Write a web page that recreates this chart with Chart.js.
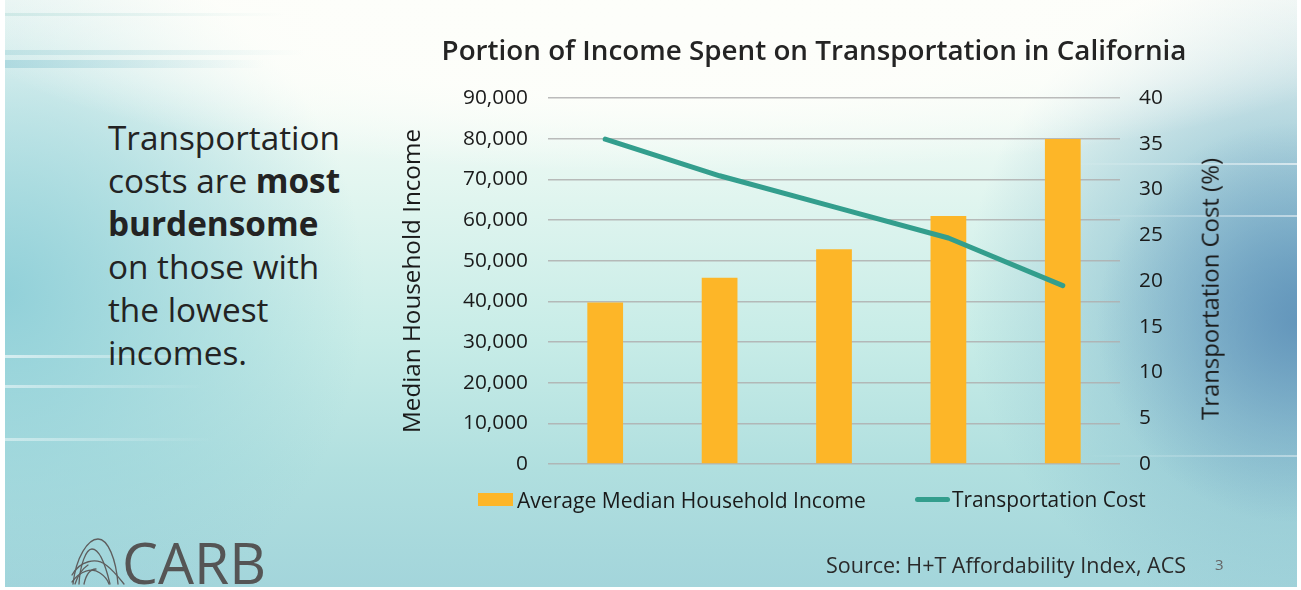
<!DOCTYPE html>
<html>
<head>
<meta charset="utf-8">
<script src="https://cdn.jsdelivr.net/npm/chart.js@4.4.1/dist/chart.umd.min.js"></script>
<style>
  html, body { margin:0; padding:0; background:#ffffff; }
  #page { position:relative; width:1301px; height:590px; overflow:hidden; background:#fff; font-family: "Open Sans", "Noto Sans", sans-serif; }
  #slide { position:absolute; left:5px; top:0; width:1292px; height:587px; overflow:hidden;
    background:
      radial-gradient(ellipse 200px 200px at 100% 55%, rgba(90,140,182,0.75) 0%, rgba(100,150,188,0.35) 55%, rgba(120,170,200,0) 100%),
      radial-gradient(ellipse 720px 150px at 52% 4%, rgba(253,254,250,1) 0%, rgba(253,254,250,0.95) 50%, rgba(253,254,250,0) 100%),
      radial-gradient(ellipse 360px 360px at 0% 50%, rgba(135,203,214,0.85) 0%, rgba(150,210,218,0.55) 50%, rgba(170,220,222,0) 100%),
      radial-gradient(ellipse 330px 330px at 100% 50%, rgba(115,170,198,0.9) 0%, rgba(130,185,205,0.55) 50%, rgba(150,200,212,0) 100%),
      linear-gradient(to bottom, #fcfdf9 0%, #f6fcf7 14%, #e0f5ef 34%, #c7ece7 58%, #b0dfdf 80%, #a3d5db 100%);
  }
  .streak { position:absolute; height:3px; }
  #chartWrap { position:absolute; left:0; top:0; width:1301px; height:590px; }
  #lefttext { position:absolute; left:108px; top:116px; line-height:43px; color:#232323; white-space:nowrap; }
  #lefttext b { font-weight:700; }
  #legend { position:absolute; left:478px; top:486px; height:26px; display:flex; align-items:center; color:#1a1a1a; white-space:nowrap; }
  #legend .item { display:flex; align-items:center; }
  #rtitle { position:absolute; left:1210px; top:289px; transform:translate(-50%,-50%) rotate(-90deg); color:#1a1a1a; white-space:nowrap; line-height:1.2; }
  #source { position:absolute; left:826px; top:552px; line-height:26px; color:#2a2a2a; white-space:nowrap; }
  #pnum { position:absolute; left:1215px; top:554px; font-size:15px; line-height:20px; color:#666; }
  #logo { position:absolute; left:70px; top:535px; }
  #carb { position:absolute; left:122px; top:535px; line-height:54px; color:#555; white-space:nowrap; }
</style>
</head>
<body>
<div id="page">
  <div id="slide">
    <div class="streak" style="left:0;top:13px;width:280px;background:linear-gradient(to right, rgba(190,225,222,0.6), rgba(190,225,222,0));"></div>
    <div class="streak" style="left:0;top:50px;width:300px;height:5px;background:linear-gradient(to right, rgba(170,215,220,0.55), rgba(170,215,220,0));"></div>
    <div class="streak" style="left:0;top:60px;width:260px;height:8px;background:linear-gradient(to right, rgba(150,205,215,0.6), rgba(150,205,215,0));"></div>
    <div class="streak" style="left:0;top:355px;width:230px;background:linear-gradient(to right, rgba(255,255,255,0.6), rgba(255,255,255,0));"></div>
    <div class="streak" style="left:0;top:385px;width:200px;background:linear-gradient(to right, rgba(255,255,255,0.5), rgba(255,255,255,0));"></div>
    <div class="streak" style="left:0;top:438px;width:210px;background:linear-gradient(to right, rgba(255,255,255,0.45), rgba(255,255,255,0));"></div>
    <div class="streak" style="left:1060px;top:163px;width:232px;height:2px;background:linear-gradient(to right, rgba(255,255,255,0), rgba(255,255,255,0.6));"></div>
    <div class="streak" style="left:1080px;top:215px;width:212px;height:2px;background:linear-gradient(to right, rgba(255,255,255,0), rgba(255,255,255,0.5));"></div>
    <div class="streak" style="left:1080px;top:455px;width:212px;height:2px;background:linear-gradient(to right, rgba(255,255,255,0), rgba(255,255,255,0.4));"></div>
  </div>

  <div id="lefttext"><span id="lt1">Transportation</span><br>costs are <b>most</b><br><b>burdensome</b><br>on those with<br>the lowest<br>incomes.</div>

  <div id="chartWrap"><canvas id="c" width="1301" height="590"></canvas></div>

  <div id="rtitle">Transportation Cost (%)</div>
  <div id="legend"></div>

  <svg id="logo" width="56" height="50" viewBox="0 0 56 50">
    <g fill="none" stroke="#5e5e5e" stroke-width="1.3" stroke-linecap="round">
      <path d="M3 49 C 6 22, 18 4, 28 4 C 38 4, 46 24, 48 49"/>
      <path d="M9 49 C 10 30, 16 14, 22 14 C 30 14, 36 32, 40 49"/>
      <path d="M2 40 C 10 26, 26 22, 36 30 C 44 36, 50 44, 54 49"/>
      <path d="M2 47 C 10 36, 22 32, 30 38 C 36 42, 38 46, 39 49"/>
      <path d="M14 49 C 16 40, 20 34, 26 34"/>
      <path d="M5 49 C 8 40, 12 34, 18 30"/>
    </g>
  </svg>
  <div id="carb">CARB</div>

  <div id="source">Source: H+T Affordability Index, ACS</div>
  <div id="pnum">3</div>
</div>

<script>
// ---- data ----
const categories = ['Group 1', 'Group 2', 'Group 3', 'Group 4', 'Group 5'];
const incomeValues = [39700, 45800, 52800, 61000, 79900];
const transportCost = [35.5, 31.5, 28.1, 24.7, 19.5];
const incomeTicks = { min: 0, max: 90000, step: 10000 };
const costTicks = { min: 0, max: 40, step: 5 };
const seriesNames = ['Average Median Household Income', 'Transportation Cost'];
const chartTitle = 'Portion of Income Spent on Transportation in California';
const leftAxisTitle = 'Median Household Income';

const BAR_COLOR = '#fdb628';
const LINE_COLOR = '#339e8d';
const TEXT = '#1a1a1a';
const FAMILY = '"Open Sans", "Noto Sans", sans-serif';

// font size fitted so a text spans the width it has in the reference
const mctx = document.createElement('canvas').getContext('2d');
function fitSize(text, target, weight) {
  mctx.font = (weight || 'normal') + ' 100px ' + FAMILY;
  return +(100 * target / mctx.measureText(text).width).toFixed(2);
}

const titleSize = fitSize(chartTitle, 745, '600');
const tickSize = fitSize('90,000', 65, 'normal');
const axisTitleSize = fitSize(leftAxisTitle, 304, 'normal');
const rTitleSize = fitSize('Transportation Cost (%)', 262, 'normal');
const legendSize1 = fitSize(seriesNames[0], 349, 'normal');
const legendSize2 = fitSize(seriesNames[1], 194, 'normal');
const leftTextSize = fitSize('Transportation', 232, 'normal');
const sourceSize = fitSize('Source: H+T Affordability Index, ACS', 360, 'normal');
const carbSize = fitSize('CARB', 144, 'normal');

document.getElementById('lefttext').style.fontSize = leftTextSize + 'px';
document.getElementById('rtitle').style.fontSize = rTitleSize + 'px';
document.getElementById('source').style.fontSize = sourceSize + 'px';
document.getElementById('carb').style.fontSize = carbSize + 'px';

const chart = new Chart(document.getElementById('c'), {
  type: 'bar',
  data: {
    labels: categories,
    datasets: [
      {
        type: 'line',
        label: seriesNames[1],
        data: transportCost,
        yAxisID: 'y1',
        borderColor: LINE_COLOR,
        backgroundColor: LINE_COLOR,
        borderWidth: 5,
        borderCapStyle: 'round',
        borderJoinStyle: 'round',
        pointRadius: 0,
        tension: 0,
        order: 0
      },
      {
        type: 'bar',
        label: seriesNames[0],
        data: incomeValues,
        yAxisID: 'y',
        backgroundColor: BAR_COLOR,
        borderWidth: 0,
        categoryPercentage: 1.0,
        barPercentage: 0.3125,
        order: 1
      }
    ]
  },
  options: {
    responsive: false,
    animation: false,
    devicePixelRatio: 1,
    layout: { padding: { left: 400, right: 73, top: 0, bottom: 126 } },
    plugins: {
      legend: { display: false },
      tooltip: { enabled: false },
      title: {
        display: true,
        text: chartTitle,
        color: '#242424',
        font: { family: FAMILY, size: titleSize, weight: '600', lineHeight: 1.2 },
        padding: { top: 52 - titleSize * 0.6, bottom: 98 - 52 - titleSize * 0.6 }
      }
    },
    scales: {
      x: { display: false, offset: true },
      y: {
        position: 'left',
        min: incomeTicks.min, max: incomeTicks.max,
        ticks: { stepSize: incomeTicks.step, padding: 20, color: TEXT, font: { family: FAMILY, size: tickSize } },
        grid: { color: 'rgba(175,175,175,0.85)', lineWidth: 1.4, drawTicks: false },
        border: { display: false },
        title: { display: true, text: leftAxisTitle, color: TEXT, padding: { top: 13 - axisTitleSize * 0.6, bottom: 0 }, font: { family: FAMILY, size: axisTitleSize, lineHeight: 1.2 } },
        afterFit(s) { s.width = 148; }
      },
      y1: {
        position: 'right',
        min: costTicks.min, max: costTicks.max,
        ticks: { stepSize: costTicks.step, padding: 19, color: TEXT, font: { family: FAMILY, size: tickSize } },
        grid: { display: false, drawTicks: false },
        border: { display: false },
        afterFit(s) { s.width = 108; }
      }
    }
  }
});

// HTML legend built from dataset definitions
const legend = document.getElementById('legend');
[1, 0].forEach((di, k) => {
  const ds = chart.data.datasets[di];
  const item = document.createElement('div');
  item.className = 'item';
  if (k > 0) item.style.marginLeft = '49px';
  const sw = document.createElement('span');
  if (ds.type === 'bar') {
    sw.style.cssText = 'display:inline-block;width:35px;height:13px;margin-right:4px;background:' + ds.backgroundColor;
  } else {
    sw.style.cssText = 'display:inline-block;width:35px;height:5px;border-radius:3px;margin-right:2px;background:' + ds.borderColor;
  }
  const tx = document.createElement('span');
  tx.textContent = ds.label;
  tx.style.fontSize = (k === 0 ? legendSize1 : legendSize2) + 'px';
  item.appendChild(sw); item.appendChild(tx);
  legend.appendChild(item);
});
</script>
</body>
</html>
